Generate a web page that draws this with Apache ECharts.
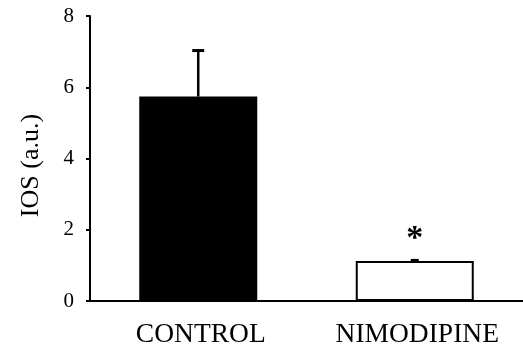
<!DOCTYPE html>
<html>
<head>
<meta charset="utf-8">
<script src="https://cdn.jsdelivr.net/npm/echarts@6/dist/echarts.min.js"></script>
<style>
html,body{margin:0;padding:0;background:#fff;}
#chart{width:523px;height:350px;}
</style>
</head>
<body>
<div id="chart"></div>
<script>
const categories = ['CONTROL', 'NIMODIPINE'];
const means = [5.74, 1.12];
const upperErr = [7.03, 1.14];
const significant = [false, true];
const fills = ['#000000', '#ffffff'];
const yTicks = [0, 2, 4, 6, 8];

const chart = echarts.init(document.getElementById('chart'), null, {renderer: 'canvas'});
const FONT = '"Liberation Serif", "Times New Roman", serif';

chart.setOption({
  animation: false,
  grid: {left: 90, top: 16, width: 438, bottom: 49, containLabel: false},
  xAxis: {
    type: 'category',
    data: categories,
    axisLine: {lineStyle: {color: '#000', width: 2}},
    axisTick: {show: false},
    axisLabel: {color: '#000', fontFamily: FONT, fontSize: 27.5, margin: 20, padding: [0, 0, 0, 5]}
  },
  yAxis: {
    type: 'value',
    min: yTicks[0],
    max: yTicks[yTicks.length - 1],
    interval: 2,
    name: 'IOS (a.u.)',
    nameLocation: 'middle',
    nameGap: 46,
    nameTextStyle: {color: '#000', fontFamily: FONT, fontSize: 26, padding: [0, 14, 0, 0]},
    splitLine: {show: false},
    axisLine: {show: true, lineStyle: {color: '#000', width: 2}},
    axisTick: {show: true, length: 4, lineStyle: {color: '#000', width: 2}},
    axisLabel: {color: '#000', fontFamily: FONT, fontSize: 21, margin: 16}
  },
  series: [
    {
      type: 'bar',
      barWidth: 118,
      data: means.map((v, i) => ({
        value: v,
        itemStyle: {color: fills[i], borderColor: '#000', borderWidth: 2}
      })),
      z: 2
    },
    {
      type: 'custom',
      z: 3,
      data: means.map((v, i) => [i, v, upperErr[i], significant[i] ? 1 : 0]),
      renderItem: function (params, api) {
        const x = api.value(0);
        const base = api.coord([x, api.value(1)]);
        const top = api.coord([x, api.value(2)]);
        const capHalf = params.dataIndex === 0 ? 6 : 4;
        const children = [
          {type: 'line', shape: {x1: base[0], y1: base[1], x2: top[0], y2: top[1]}, style: {stroke: '#000', lineWidth: 2.5}},
          {type: 'line', shape: {x1: top[0] - capHalf, y1: top[1], x2: top[0] + capHalf, y2: top[1]}, style: {stroke: '#000', lineWidth: 3}}
        ];
        if (api.value(3)) {
          children.push({
            type: 'text',
            style: {
              text: '*', x: top[0], y: top[1] - 21,
              fill: '#000', font: 'bold 34px ' + FONT,
              align: 'center', verticalAlign: 'middle'
            }
          });
        }
        return {type: 'group', children: children};
      }
    }
  ]
});
</script>
</body>
</html>
